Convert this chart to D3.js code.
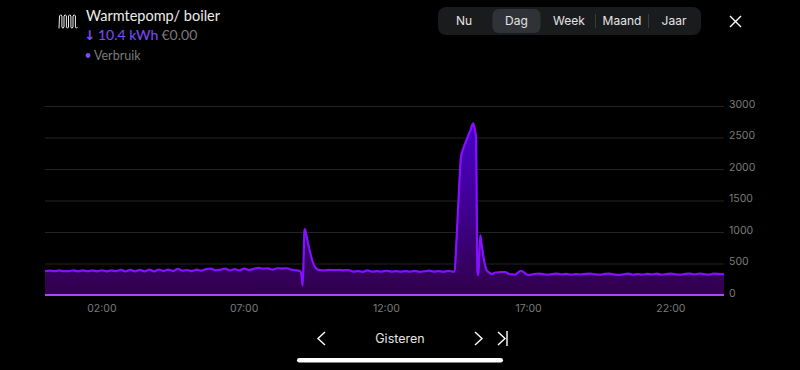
<!DOCTYPE html>
<html>
<head>
<meta charset="utf-8" />
<title>Warmtepomp/ boiler</title>
<style>
html, body { margin: 0; padding: 0; background: #000; }
svg { display: block; }
text { font-family: Lato, "Open Sans", sans-serif; }
.grid line { stroke: #232323; stroke-width: 1px; }
.grid .domain, .xaxis .domain, .xaxis line { display: none; }
.grid text, .xaxis text { fill: #7b7b7b; font-size: 10.5px; font-family: Inter, sans-serif; }
.tab { fill: #e4e4e4; font-size: 12px; font-family: Inter, sans-serif; text-anchor: middle; }
.ui { fill: none; stroke: #fff; stroke-width: 1.4px; }
</style>
</head>
<body>
<div id="container"></div>
<script src="https://cdnjs.cloudflare.com/ajax/libs/d3/7.8.5/d3.min.js"></script>
<script>
// minutes since midnight
var minutes = [
    0, 10, 20, 30, 40, 50, 60, 70, 80, 90,
    100, 110, 120, 130, 140, 150, 160, 170, 180, 190,
    200, 210, 220, 230, 240, 250, 260, 270, 280, 290,
    300, 310, 320, 330, 340, 350, 360, 370, 380, 390,
    400, 410, 420, 430, 440, 450, 460, 470, 480, 490,
    500, 510, 520, 530, 535, 539, 541, 543.5, 545.5, 547,
    548, 551, 554, 557, 560, 564, 570, 575, 580, 590,
    600, 610, 620, 630, 640, 650, 660, 670, 680, 690,
    700, 710, 720, 730, 740, 750, 760, 770, 780, 790,
    800, 810, 820, 830, 840, 850, 860, 864, 866, 868,
    872, 875, 877, 882, 890, 897, 903, 906, 909, 910,
    911, 912, 914, 916, 918, 921, 924, 928, 931, 936,
    942, 951, 960, 970, 979, 991, 1004, 1012, 1019, 1030,
    1040, 1050, 1060, 1070, 1080, 1090, 1100, 1110, 1120, 1130,
    1140, 1150, 1160, 1170, 1180, 1190, 1200, 1210, 1220, 1230,
    1240, 1250, 1260, 1270, 1280, 1290, 1300, 1310, 1320, 1330,
    1340, 1350, 1360, 1370, 1380, 1390, 1400, 1410, 1420, 1432
];
// verbruik in watt
var verbruik = [
    378, 388, 378, 390, 378, 380, 390, 376, 390, 378,
    390, 376, 392, 376, 390, 378, 398, 376, 398, 376,
    398, 376, 402, 376, 402, 382, 402, 380, 415, 385,
    395, 380, 402, 385, 412, 420, 392, 402, 418, 390,
    410, 392, 420, 396, 415, 430, 420, 422, 402, 425,
    420, 425, 402, 392, 385, 375, 300, 148, 600, 1000,
    1047, 960, 850, 746, 650, 540, 440, 405, 395, 392,
    398, 395, 398, 392, 396, 372, 380, 368, 390, 372,
    380, 372, 385, 372, 378, 370, 380, 372, 382, 368,
    376, 386, 372, 380, 368, 382, 372, 370, 600, 900,
    1500, 1950, 2175, 2320, 2480, 2610, 2725, 2650, 2508, 1900,
    1000, 365, 317, 650, 952, 800, 635, 480, 397, 360,
    333, 357, 362, 365, 333, 325, 385, 350, 317, 330,
    340, 330, 322, 332, 340, 326, 334, 322, 332, 326,
    334, 340, 326, 322, 334, 340, 326, 318, 328, 340,
    322, 332, 324, 336, 326, 340, 322, 330, 340, 326,
    322, 334, 340, 326, 340, 330, 322, 338, 334, 326
];
var yTicks = [0, 500, 1000, 1500, 2000, 2500, 3000];
var xTicks = [120, 420, 720, 1020, 1320];
var tabs = ["Nu", "Dag", "Week", "Maand", "Jaar"];
var tabCenters = [464, 516.5, 569, 622, 674];

var width = 800,
    height = 370,
    margin = {
        left: 45,
        top: 106,
        right: 76,
        bottom: 75
    };

var svg = d3.select("#container")
    .append("svg")
    .attr("width", width)
    .attr("height", height);

var scale_x = d3.scaleLinear()
    .domain([0, 1432])
    .range([margin.left, width - margin.right]);
var scale_y = d3.scaleLinear()
    .domain([0, 3000])
    .range([height - margin.bottom, margin.top]);

var defs = svg.append("defs");
var grad = defs.append("linearGradient")
    .attr("id", "fillGrad")
    .attr("gradientUnits", "userSpaceOnUse")
    .attr("x1", 0).attr("x2", 0)
    .attr("y1", scale_y(2725)).attr("y2", scale_y(0));
grad.append("stop").attr("offset", "0%").attr("stop-color", "#4a00cc");
grad.append("stop").attr("offset", "50%").attr("stop-color", "#400090");
grad.append("stop").attr("offset", "100%").attr("stop-color", "#31004a");

// gridlines and y labels
var y_axis = d3.axisRight(scale_y)
    .tickValues(yTicks)
    .tickSize(width - margin.left - margin.right)
    .tickPadding(5)
    .tickFormat(d3.format("d"));
var gy = svg.append("g")
    .attr("class", "grid")
    .attr("transform", "translate(" + margin.left + ",0)")
    .call(y_axis);
gy.selectAll("text").attr("dy", "0.12em");

var area_generator = d3.area()
    .x(function(d, i) { return scale_x(minutes[i]); })
    .y0(scale_y(0))
    .y1(function(d) { return scale_y(d); })
    .curve(d3.curveMonotoneX);
var line_generator = d3.line()
    .x(function(d, i) { return scale_x(minutes[i]); })
    .y(function(d) { return scale_y(d); })
    .curve(d3.curveMonotoneX);

svg.append("path")
    .attr("d", area_generator(verbruik))
    .attr("fill", "url(#fillGrad)");
svg.append("path")
    .attr("d", line_generator(verbruik))
    .attr("fill", "none")
    .attr("stroke", "#8510ff")
    .attr("stroke-width", 2.2);

// baseline
svg.append("line")
    .attr("x1", margin.left).attr("x2", width - margin.right)
    .attr("y1", scale_y(0)).attr("y2", scale_y(0))
    .attr("stroke", "#ae48f5")
    .attr("stroke-width", 2);

var x_axis = d3.axisBottom(scale_x)
    .tickValues(xTicks)
    .tickSize(0)
    .tickPadding(10)
    .tickFormat(function(d) {
        return d3.format("02")(d / 60) + ":00";
    });
svg.append("g")
    .attr("class", "xaxis")
    .attr("transform", "translate(-0.5," + scale_y(0) + ")")
    .call(x_axis);

// header
var icon = d3.path();
icon.moveTo(59, 28.5);
[59.5, 64, 68.5, 73].forEach(function(x) {
    icon.lineTo(x, 16);
    icon.quadraticCurveTo(x + 1.2, 13.5, x + 2.4, 16);
    icon.lineTo(x + 2.4, 27);
    icon.quadraticCurveTo(x + 3.4, 29.5, x + 4.5, 27);
});
svg.append("path")
    .attr("d", icon.toString())
    .attr("fill", "none")
    .attr("stroke", "#eee")
    .attr("stroke-width", 1);

svg.append("text").attr("x", 86).attr("y", 21)
    .attr("font-size", 14.5).attr("fill", "#ececec")
    .text("Warmtepomp/ boiler");
svg.append("text").attr("x", 84).attr("y", 39.5)
    .attr("font-size", 13.5).attr("font-weight", 700).attr("fill", "#7a4cf5")
    .attr("style", "font-family: 'DejaVu Sans', sans-serif")
    .text("↓");
svg.append("text").attr("x", 98).attr("y", 39.5)
    .attr("font-size", 14).attr("fill", "#7a4cf5")
    .attr("stroke", "#7a4cf5").attr("stroke-width", 0.1)
    .text("10.4 kWh");
svg.append("text").attr("x", 161.5).attr("y", 39.5)
    .attr("font-size", 14).attr("fill", "#7a7a7a")
    .text("€0.00");
svg.append("circle").attr("cx", 88).attr("cy", 55.5).attr("r", 2.4).attr("fill", "#7a4cf5");
svg.append("text").attr("x", 94).attr("y", 60)
    .attr("font-size", 12.5).attr("fill", "#7a7a7a")
    .text("Verbruik");

// period switch
svg.append("rect").attr("x", 438).attr("y", 7).attr("width", 263).attr("height", 28)
    .attr("rx", 8).attr("fill", "#1a1b1d");
svg.append("rect").attr("x", 492.5).attr("y", 9).attr("width", 48).attr("height", 24)
    .attr("rx", 6).attr("fill", "#2f3236");
[595.5, 648.5].forEach(function(x) {
    svg.append("line").attr("x1", x).attr("x2", x).attr("y1", 14).attr("y2", 28)
        .attr("stroke", "#3a3b3d");
});
svg.selectAll(".tab")
    .data(tabs)
    .enter()
    .append("text")
    .attr("class", "tab")
    .attr("x", function(d, i) { return tabCenters[i]; })
    .attr("y", 25)
    .text(function(d) { return d; });

// close button
svg.append("path").attr("class", "ui").attr("d", "M730 16L741 27M741 16L730 27");

// bottom navigation
svg.append("path").attr("class", "ui").attr("d", "M325 332L318 338.5L325 345");
svg.append("text").attr("x", 400).attr("y", 343)
    .attr("text-anchor", "middle")
    .attr("font-size", 12.5).attr("fill", "#e4e4e4")
    .attr("style", "font-family: Inter, sans-serif")
    .text("Gisteren");
svg.append("path").attr("class", "ui").attr("d", "M475 332L482 338.5L475 345");
svg.append("path").attr("class", "ui").attr("d", "M498 332L505 338.5L498 345M507 331V346");
svg.append("rect").attr("x", 297).attr("y", 358).attr("width", 206).attr("height", 4.5)
    .attr("rx", 2.2).attr("fill", "#fff");
</script>
</body>
</html>
